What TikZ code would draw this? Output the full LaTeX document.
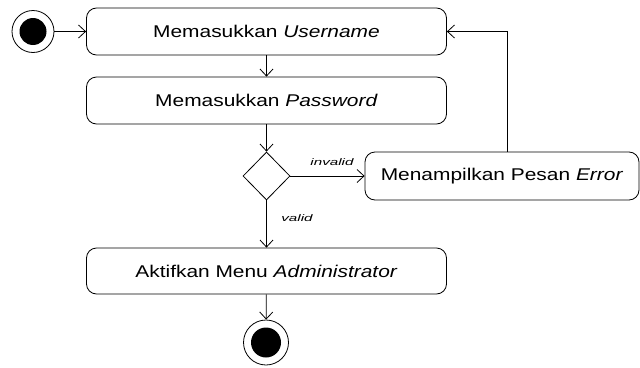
\documentclass[tikz,border=0pt]{standalone}
\usepackage{fontspec}
\setmainfont{Liberation Sans}
\newfontfamily\boxfont[FakeStretch=1.23]{Liberation Sans}
\newfontfamily\labfont[FakeStretch=1.6]{Liberation Sans}
\usetikzlibrary{shapes.geometric,arrows.meta}
\begin{document}
\begin{tikzpicture}[x=1pt,y=-1pt,
  line width=0.8pt,
  act/.style={draw,rounded corners=10pt,minimum width=360pt,minimum height=47pt,inner sep=0pt,font=\boxfont\fontsize{17}{19}\selectfont},
  dec/.style={draw,diamond,minimum width=47pt,minimum height=48pt,inner sep=0pt},
  lab/.style={font=\labfont\itshape\fontsize{9.5}{11}\selectfont,inner sep=0pt},
  flow/.style={-{Straight Barb[length=7pt,width=13pt]}}]
\useasboundingbox (0,0) rectangle (640,367);
% start
\node[circle,draw,minimum size=42pt,inner sep=0pt] (s) at (33,31.5) {};
\node[circle,fill=black,minimum size=27pt,inner sep=0pt] (sdot) at (33,31.5) {};
% activities
\node[act] (u) at (266.5,31.5) {Memasukkan \textit{Username}};
\node[act] (p) at (266.5,100.5) {Memasukkan \textit{Password}};
\node[dec] (d) at (266.5,176) {};
\node[act,minimum width=274pt,minimum height=48pt] (e) at (502,176) {Menampilkan Pesan \textit{Error}};
\node[act,minimum height=46pt] (a) at (266.5,271) {Aktifkan Menu \textit{Administrator}};
% end
\node[circle,draw,minimum size=45pt,inner sep=0pt] (f) at (266,342.5) {};
\node[circle,fill=black,minimum size=30pt,inner sep=0pt] (fdot) at (266,342.5) {};
% flows
\draw[flow] (s) -- (u);
\draw[flow] (u) -- (p);
\draw[flow] (p) -- (d);
\draw[flow] (d) -- (e);
\draw[flow] ([xshift=5pt]e.north) |- (u.east);
\draw[flow] (d) -- (a);
\draw[flow] (a) -- (f);
% labels
\node[lab] (linv) at (332,162) {invalid};
\node[lab] (lval) at (297,218) {valid};
\end{tikzpicture}
\end{document}
